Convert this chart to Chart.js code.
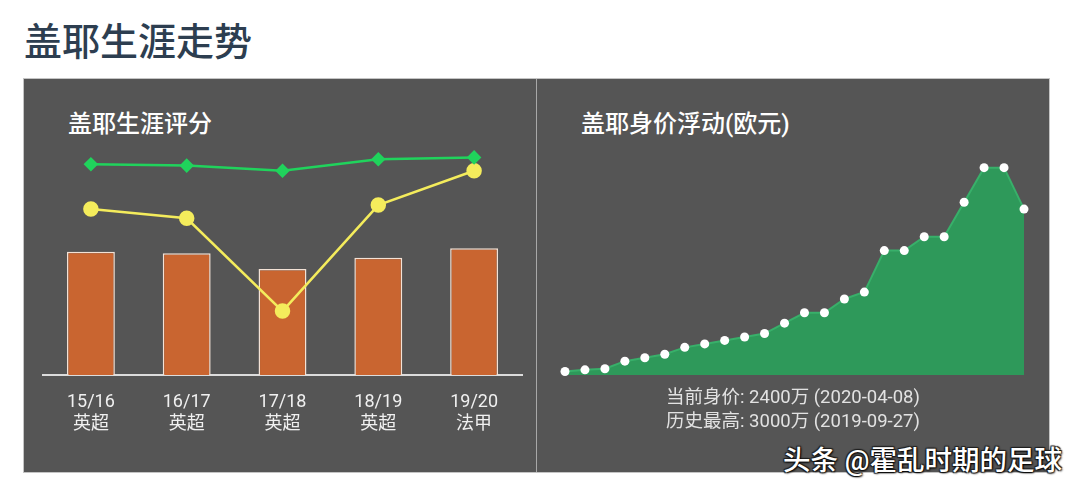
<!DOCTYPE html>
<html lang="zh-CN">
<head>
  <meta charset="UTF-8">
  <title>盖耶生涯走势</title>
  <script src="https://cdn.jsdelivr.net/npm/chart.js"></script>
  <style>
    body { margin: 0; background: #fff; font-family: Roboto, "Noto Sans CJK SC", sans-serif; }
    .page { position: relative; width: 1079px; height: 493px; overflow: hidden; }
    .titulo { position: absolute; left: 24px; top: 19px; font-size: 38px; line-height: 46px; color: #2d3e50; font-weight: 500; }
    .painel { position: absolute; left: 23px; top: 78px; width: 1025px; height: 393px; background: #555; border: 1px solid #c4c4c4; }
    .divisor { position: absolute; left: 536px; top: 79px; width: 1px; height: 393px; background: #a8a8a8; }
    .sub { position: absolute; top: 108px; font-size: 24px; line-height: 32px; color: #fff; font-weight: 500; }
    .caixa { position: absolute; }
    .nota { position: absolute; left: 593px; width: 400px; text-align: center; font-size: 18.5px; line-height: 24px; color: #e2e2e2; top: 385px; }
    .marca { position: absolute; left: 783px; top: 442px; font-size: 27.5px; line-height: 38px; font-weight: 500; color: #fff;
      text-shadow: 1px 1px 2px #000, -1px -1px 1px #222, 1px -1px 1px #222, -1px 1px 1px #222; }
  </style>
</head>
<body>
  <div class="page">
    <div class="titulo">盖耶生涯走势</div>
    <div class="painel"></div>
    <div class="divisor"></div>
    <div class="sub" style="left:68px">盖耶生涯评分</div>
    <div class="sub" style="left:581px">盖耶身价浮动(欧元)</div>

    <div class="caixa" style="left:24px; top:130px; width:512px; height:305px;"><canvas id="graficoNota"></canvas></div>
    <div class="caixa" style="left:537px; top:130px; width:512px; height:260px;"><canvas id="graficoValor"></canvas></div>

    <div class="nota">当前身价: 2400万 (2020-04-08)<br>历史最高: 3000万 (2019-09-27)</div>
    <div class="marca">头条 @霍乱时期的足球</div>
  </div>

  <script>
    // dados do gráfico de nota (escala 0-100)
    const temporadas = [['15/16', '英超'], ['16/17', '英超'], ['17/18', '英超'], ['18/19', '英超'], ['19/20', '法甲']];
    const barras = [52.5, 51.8, 45.1, 49.9, 53.9];
    const linhaVerde = [89.7, 89.1, 86.9, 91.8, 92.6];
    const linhaAmarela = [70.6, 66.7, 27.2, 72.3, 86.9];

    // valor de mercado (万欧元)
    const datasValor = ['1', '2', '3', '4', '5', '6', '7', '8', '9', '10', '11', '12',
      '13', '14', '15', '16', '17', '18', '19', '20', '21', '22', '23', '24'];
    const valores = [50, 75, 90, 200, 250, 300, 400, 450, 500, 550, 600, 750,
      900, 900, 1100, 1200, 1800, 1800, 2000, 2000, 2500, 3000, 3000, 2400];

    Chart.defaults.font.family = 'Roboto, "Noto Sans CJK SC", sans-serif';

    new Chart(document.getElementById('graficoNota'), {
      type: 'bar',
      data: {
        labels: temporadas,
        datasets: [
          {
            type: 'line', data: linhaVerde, order: 1,
            borderColor: '#20d35c', backgroundColor: '#20d35c', borderWidth: 2.5,
            pointStyle: 'rectRot', pointRadius: 5.5, tension: 0
          },
          {
            type: 'line', data: linhaAmarela, order: 2,
            borderColor: '#f4ec5c', backgroundColor: '#f4ec5c', borderWidth: 2.5,
            pointStyle: 'circle', pointRadius: 6.5, tension: 0
          },
          {
            data: barras, order: 3,
            backgroundColor: '#c96530', borderColor: '#f3e2d6', borderWidth: 1.5,
            borderSkipped: 'bottom', barPercentage: 0.5, categoryPercentage: 1
          }
        ]
      },
      options: {
        responsive: true,
        maintainAspectRatio: false,
        animation: false,
        layout: { padding: { left: 19, right: 14, top: 10, bottom: 0 } },
        plugins: { legend: { display: false }, tooltip: { enabled: false } },
        scales: {
          x: {
            grid: { display: false, drawTicks: false },
            border: { display: true, color: '#dcdcdc', width: 2 },
            ticks: { color: '#f0f0f0', font: { size: 18, lineHeight: 1.2 }, padding: 17, maxRotation: 0 },
            afterFit(scale) { scale.height = 60; }
          },
          y: { display: false, min: 0, max: 100 }
        }
      }
    });

    new Chart(document.getElementById('graficoValor'), {
      type: 'line',
      data: {
        labels: datasValor,
        datasets: [{
          data: valores,
          fill: 'origin',
          backgroundColor: '#2e995a',
          borderColor: '#38b06a',
          borderWidth: 2,
          pointBackgroundColor: '#ffffff',
          pointBorderColor: '#ffffff',
          pointBorderWidth: 0,
          pointRadius: 4.5,
          tension: 0,
          clip: false
        }]
      },
      options: {
        responsive: true,
        maintainAspectRatio: false,
        animation: false,
        layout: { padding: { left: 28, right: 25, top: 10, bottom: 15 } },
        plugins: { legend: { display: false }, tooltip: { enabled: false } },
        scales: {
          x: { display: false, offset: false },
          y: { display: false, min: 0, max: 3400 }
        }
      }
    });
  </script>
</body>
</html>
